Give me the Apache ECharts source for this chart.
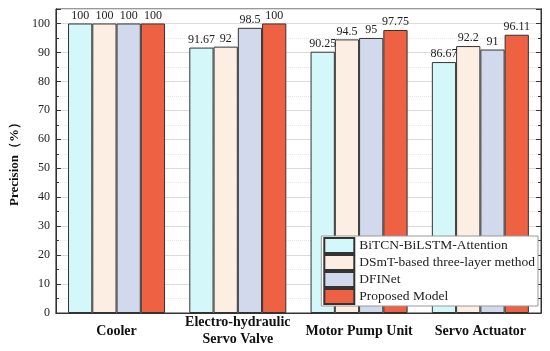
<!DOCTYPE html>
<html><head><meta charset="utf-8">
<script src="https://cdn.jsdelivr.net/npm/echarts@6/dist/echarts.min.js"></script>
<style>html,body{margin:0;padding:0;background:#fff}#c{width:550px;height:351px}</style>
</head><body><div id="c"></div>
<script>
const categories = ['Cooler', 'Electro-hydraulic\nServo Valve', 'Motor Pump Unit', 'Servo Actuator'];
const seriesNames = ['BiTCN-BiLSTM-Attention', 'DSmT-based three-layer method', 'DFINet', 'Proposed Model'];
const bitcn = [100, 91.67, 90.25, 86.67];
const dsmt = [100, 92, 94.5, 92.2];
const dfinet = [100, 98.5, 95, 91];
const proposed = [100, 100, 97.75, 96.11];
const yTicks = [0, 10, 20, 30, 40, 50, 60, 70, 80, 90, 100];

const colors = ['#D4F8FA', '#FDEEE3', '#D2D9EC', '#EE6143'];
const font = 'Liberation Serif, Times New Roman, serif';
const values = [bitcn, dsmt, dfinet, proposed];
const axisBase = (pos, interval, len, opts) => Object.assign({
  type: 'value', min: 0, max: 105, interval: interval, position: pos, offset: 0,
  axisLine: {show: true, lineStyle: {color: '#333'}},
  axisTick: {show: true, inside: true, length: len, lineStyle: {color: '#333'}},
  axisLabel: {show: false}, splitLine: {show: false}
}, opts || {});
const chart = echarts.init(document.getElementById('c'));
chart.setOption({
  animation: false,
  textStyle: {fontFamily: font},
  grid: {left: 42, right: 9, top: 9, bottom: 38, show: true, borderColor: '#333', borderWidth: 1},
  legend: {
    orient: 'vertical', right: 12, bottom: 45,
    icon: 'rect', itemWidth: 30, itemHeight: 15, itemGap: 0,
    backgroundColor: '#fff', borderColor: '#999', borderWidth: 1,
    padding: [1, 3, 1, 2],
    textStyle: {fontFamily: font, fontSize: 13.5, color: '#222', lineHeight: 15, height: 15},
    data: seriesNames
  },
  xAxis: {
    type: 'category', data: categories,
    axisLine: {lineStyle: {color: '#333'}},
    axisTick: {inside: true, length: 5, lineStyle: {color: '#333'}},
    axisLabel: {interval: 0, fontFamily: font, fontWeight: 'bold', fontSize: 14, color: '#111',
      margin: 18, lineHeight: 17, verticalAlign: 'middle'}
  },
  yAxis: [
    axisBase('left', 5, 3, {
      splitLine: {show: true, lineStyle: {color: '#e4e4e4', type: 'dotted'}}
    }),
    axisBase('left', 10, 5, {
      name: 'Precision（%）', nameLocation: 'middle', nameGap: 26,
      nameTextStyle: {fontFamily: font, fontWeight: 'bold', fontSize: 13, color: '#111'},
      axisLabel: {show: true, fontFamily: font, fontSize: 12, color: '#222', margin: 6,
        formatter: v => yTicks.indexOf(v) >= 0 ? String(v) : ''},
      splitLine: {show: true, lineStyle: {color: '#dcdcdc', type: 'solid'}}
    }),
    axisBase('right', 5, 3),
    axisBase('right', 10, 5)
  ],
  series: seriesNames.map((n, i) => ({
    name: n, type: 'bar', data: values[i], barWidth: '20%', barGap: '0%', yAxisIndex: 1,
    itemStyle: {color: colors[i], borderColor: '#333', borderWidth: 1},
    label: {show: true, position: 'top', distance: 2, fontFamily: font, fontSize: 12, color: '#222'}
  }))
});
</script></body></html>
